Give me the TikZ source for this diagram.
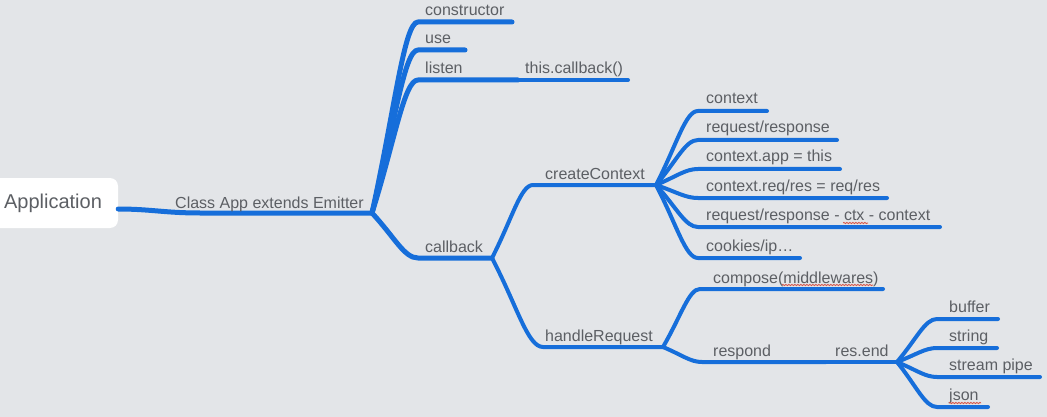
\documentclass[tikz,border=0pt]{standalone}
\usepackage{fontspec}
\setmainfont{Liberation Sans}
\usetikzlibrary{calc,decorations.pathmorphing}
\definecolor{bg}{RGB}{227,229,232}
\definecolor{mblue}{RGB}{22,110,218}
\definecolor{txt}{RGB}{92,95,100}
\definecolor{spell}{RGB}{214,84,70}
\begin{document}
\begin{tikzpicture}[x=1pt,y=-1pt,
  br/.style={to path={let \p1=(\tikztostart),\p2=(\tikztotarget) in
     .. controls ({\x1+0.5*(\x2-(\x1))},{\y1+0.55*(\y2-(\y1))}) and ({\x2-0.3*(\x2-(\x1))},{\y2}) .. (\tikztotarget) \tikztonodes}},
  edge/.style={draw=mblue, line width=4pt, line cap=round, line join=round},
  edgeroot/.style={edge, line width=5pt},
  lbl/.style={text=txt, font=\fontsize{16}{19}\selectfont, anchor=base west, inner sep=0pt},
  appbox/.style={fill=white, rounded corners=8pt, minimum width=130pt, minimum height=50pt, text=txt, font=\fontsize{20}{24}\selectfont, inner sep=0pt},
  squig/.style={draw=spell, line width=0.8pt, decorate, decoration={snake, amplitude=0.7pt, segment length=3pt}},
]
\fill[bg] (0,0) rectangle (1047,417);
\useasboundingbox (0,0) rectangle (1047,417);
\clip (0,0) rectangle (1047,417);

% root
\node[appbox] (app) at (53,203) {Application};
\coordinate (R) at (372,213);
\coordinate (rootS) at (200,213);
\draw[edgeroot] ([yshift=-6pt]app.east) .. controls (150,209) and (165,213) .. (rootS) -- (R);
\node[lbl] (tRoot) at (175,208) {Class App extends Emitter};

% level 1
\coordinate (sCons) at (418,22);  \coordinate (eCons) at (512,22);
\coordinate (sUse)  at (418,50);  \coordinate (eUse)  at (465,50);
\coordinate (sList) at (418,80);  \coordinate (eList) at (518,80);
\coordinate (eThis) at (628,80);
\coordinate (sCb)   at (418,258); \coordinate (B2)    at (492,258);

\draw[edgeroot] (R) to[br] (sCons) -- (eCons);
\draw[edgeroot] (R) to[br] (sUse) -- (eUse);
\draw[edgeroot] (R) to[br] (sList) -- (eList);
\draw[edge] (eList) -- (eThis);
\draw[edgeroot] (R) to[br] (sCb) -- (B2);

\node[lbl] (tCons) at (425,16) {constructor};
\node[lbl] (tUse)  at (425,44) {use};
\node[lbl] (tList) at (425,74) {listen};
\node[lbl] (tThis) at (525,74) {this.callback()};
\node[lbl] (tCb)   at (425,252) {callback};

% level 2
\coordinate (sCC) at (533,185); \coordinate (B3) at (656,185);
\coordinate (sHR) at (543,347); \coordinate (B4) at (663,347);
\draw[edge] (B2) to[br] (sCC) -- (B3);
\draw[edge] (B2) to[br] (sHR) -- (B4);
\node[lbl] (tCC) at (545,179) {createContext};
\node[lbl] (tHR) at (545,341) {handleRequest};

% createContext children
\foreach \nm/\yy/\ex/\t in {c1/111/767/{context},
                            c2/140/837/{request/response},
                            c3/169/840/{context.app = this},
                            c4/198/887/{context.req/res = req/res},
                            c5/227/940/{request/response - ctx - context},
                            c6/258/800/{cookies/ip…}}{
  \coordinate (s\nm) at (698,\yy);
  \coordinate (e\nm) at (\ex,\yy);
  \draw[edge] (B3) to[br] (s\nm) -- (e\nm);
  \node[lbl] (t\nm) at (706,\yy-7) {\t};
}

% handleRequest children
\coordinate (sComp) at (700,289); \coordinate (eComp) at (883,289);
\coordinate (sResp) at (702,362); \coordinate (eResp) at (826,362);
\coordinate (B5) at (897,362);
\draw[edge] (B4) to[br] (sComp) -- (eComp);
\draw[edge] (B4) to[br] (sResp) -- (eResp);
\draw[edge] (eResp) -- (B5);
\node[lbl] (tComp) at (713,283) {compose(middlewares)};
\node[lbl] (tResp) at (713,356) {respond};
\node[lbl] (tEnd)  at (835,356) {res.end};

% res.end children
\foreach \nm/\yy/\ex/\t in {r1/319/998/{buffer},
                            r2/348/997/{string},
                            r3/377/1040/{stream pipe},
                            r4/407/988/{json}}{
  \coordinate (s\nm) at (937,\yy);
  \coordinate (e\nm) at (\ex,\yy);
  \draw[edge] (B5) to[br] (s\nm) -- (e\nm);
  \node[lbl] (t\nm) at (949,\yy-7) {\t};
}

% spell-check marks
\draw[squig] (843,223) -- (868,223);
\draw[squig] (782,285) -- (873,285);
\draw[squig] (949,403) -- (981,403);
\end{tikzpicture}
\end{document}
